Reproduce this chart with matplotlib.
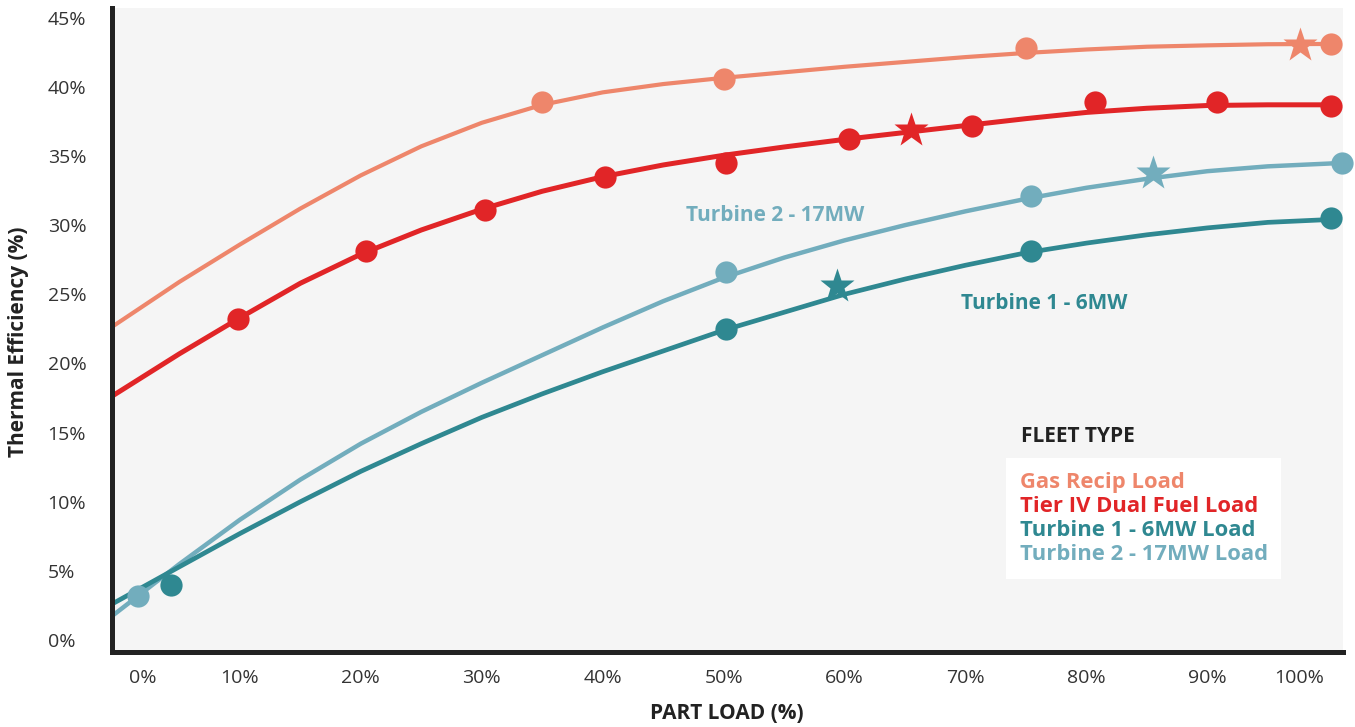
import matplotlib
matplotlib.use("Agg")
import matplotlib.pyplot as plt
import matplotlib.transforms as mtransforms
from matplotlib.lines import Line2D

# trend lines, every 5 % of part load
trend_load = [-1, 5, 10, 15, 20, 25, 30, 35, 40, 45, 50,
              55, 60, 65, 70, 75, 80, 85, 90, 95, 100]
turbine2_trend_load = trend_load + [101.1]

gas_trend = [22.4, 25.9, 28.6, 31.2, 33.6, 35.7, 37.4, 38.7, 39.6, 40.2, 40.65,
             41.05, 41.45, 41.8, 42.15, 42.45, 42.7, 42.9, 43.0, 43.08, 43.1]
tier4_trend = [17.4, 20.7, 23.3, 25.8, 27.9, 29.65, 31.15, 32.45, 33.5, 34.35, 35.05,
               35.65, 36.2, 36.7, 37.2, 37.7, 38.15, 38.45, 38.65, 38.7, 38.7]
turbine1_trend = [2.4, 5.3, 7.7, 10.0, 12.2, 14.2, 16.1, 17.8, 19.4, 20.9, 22.4,
                  23.7, 25.0, 26.1, 27.1, 28.0, 28.7, 29.3, 29.8, 30.2, 30.4]
turbine2_trend = [1.45, 5.5, 8.7, 11.6, 14.2, 16.5, 18.6, 20.6, 22.6, 24.5, 26.2,
                  27.65, 28.9, 30.0, 31.0, 31.9, 32.7, 33.35, 33.9, 34.25, 34.45, 34.5]

# measured points (circles) and rated point (star)
gas_load = [35, 50, 75, 100.2]
gas_eff = [38.9, 40.6, 42.8, 43.1]
gas_star = (97.7, 43.05)

tier4_load = [9.8, 20.4, 30.3, 40.2, 50.2, 60.4, 70.5, 80.7, 90.8, 100.2]
tier4_eff = [23.2, 28.1, 31.1, 33.5, 34.5, 36.2, 37.2, 38.9, 38.9, 38.6]
tier4_star = (65.5, 36.9)

turbine1_load = [4.3, 50.2, 75.4, 100.2]
turbine1_eff = [4.0, 22.5, 28.1, 30.5]
turbine1_star = (59.4, 25.6)

turbine2_load = [1.6, 50.2, 75.4, 101.1]
turbine2_eff = [3.2, 26.6, 32.1, 34.5]
turbine2_star = (85.5, 33.8)

series_labels = ["Gas Recip Load", "Tier IV Dual Fuel Load",
                 "Turbine 1 - 6MW Load", "Turbine 2 - 17MW Load"]
x_ticks = [0, 10, 20, 30, 40, 50, 60, 70, 80, 90, 100]
x_tick_labels = ["0%", "10%", "20%", "30%", "40%", "50%",
                 "60%", "70%", "80%", "90%", "100%"]
y_ticks = [0, 5, 10, 15, 20, 25, 30, 35, 40, 45]
y_tick_labels = ["0%", "5%", "10%", "15%", "20%", "25%",
                 "30%", "35%", "40%", "45%"]

SALMON = "#EE866B"
RED = "#E12527"
TEAL = "#2F8891"
LIGHT_TEAL = "#72ADBD"
INK = "#222222"
FONT = "Open Sans"

plt.rcParams["font.family"] = [FONT, "DejaVu Sans"]

fig = plt.figure(figsize=(13.55, 7.27), dpi=100)
ax = fig.add_axes([0.0823, 0.1025, 0.9087, 0.8865])
ax.set_facecolor("#F5F5F5")

series = [
    (turbine2_trend_load, turbine2_trend, turbine2_load, turbine2_eff, turbine2_star, LIGHT_TEAL, 3.2),
    (trend_load, turbine1_trend, turbine1_load, turbine1_eff, turbine1_star, TEAL, 3.4),
    (trend_load, tier4_trend, tier4_load, tier4_eff, tier4_star, RED, 3.6),
    (trend_load, gas_trend, gas_load, gas_eff, gas_star, SALMON, 3.0),
]
for tx, ty, mx, my, star, color, lw in series:
    ax.plot(tx, ty, color=color, lw=lw, solid_capstyle="butt",
            solid_joinstyle="round", zorder=2)
    ax.plot(mx, my, "o", color=color, ms=16, mec="none", clip_on=False, zorder=3)
    ax.plot([star[0]], [star[1]], "*", color=color, ms=26, mec="none", clip_on=False, zorder=3)

ax.set_xlim(-0.62, 101.2)
ax.set_ylim(-0.9, 45.7)

for side in ["top", "right"]:
    ax.spines[side].set_visible(False)
for side in ["left", "bottom"]:
    ax.spines[side].set_color(INK)
    ax.spines[side].set_linewidth(3.6)
    ax.spines[side].set_capstyle("projecting")

ax.set_xticks(x_ticks)
ax.set_xticklabels(x_tick_labels)
ax.set_yticks(y_ticks)
ax.set_yticklabels(y_tick_labels, ha="left")
ax.tick_params(axis="both", length=0, labelsize=14, colors="#333333")
ax.tick_params(axis="x", pad=12)
ax.tick_params(axis="y", pad=46)

# the first and last load labels sit inside the plot edges in the original
xlabels = ax.get_xticklabels()
for lab, dx in [(xlabels[0], 0.24), (xlabels[-1], -0.29)]:
    lab.set_transform(lab.get_transform() + mtransforms.ScaledTranslation(dx, 0, fig.dpi_scale_trans))

ax.set_xlabel("PART LOAD (%)", fontsize=15, fontweight="bold", color=INK, va="center")
ax.xaxis.set_label_coords(0.5, -0.094)
ax.set_ylabel("Thermal Efficiency (%)", fontsize=15, fontweight="bold", color=INK, va="center")
ax.yaxis.set_label_coords(-0.0755, 0.482)

ax.text(54.25, 30.7, "Turbine 2 - 17MW", color=LIGHT_TEAL, fontsize=15,
        fontweight="bold", ha="center", va="center")
ax.text(76.5, 24.3, "Turbine 1 - 6MW", color=TEAL, fontsize=15,
        fontweight="bold", ha="center", va="center")

handles = [Line2D([], [], color=c, lw=0) for c in [SALMON, RED, TEAL, LIGHT_TEAL]]
leg = ax.legend(handles, series_labels, loc="upper left",
                bbox_to_anchor=(1006 / 1355, 1 - 458 / 727), bbox_transform=fig.transFigure,
                borderaxespad=0, handlelength=0, handletextpad=0, labelspacing=0.15,
                borderpad=0.62, labelcolor="linecolor", frameon=True, fancybox=False,
                prop={"family": FONT, "weight": "bold", "size": 15.8})
leg.get_frame().set_facecolor("white")
leg.get_frame().set_edgecolor("none")
leg.get_frame().set_alpha(1)

fig.text(1021 / 1355, 1 - 437 / 727, "FLEET TYPE", fontsize=15, fontweight="bold",
         color=INK, ha="left", va="center")

fig.savefig("out.png", dpi=100, facecolor="white")
